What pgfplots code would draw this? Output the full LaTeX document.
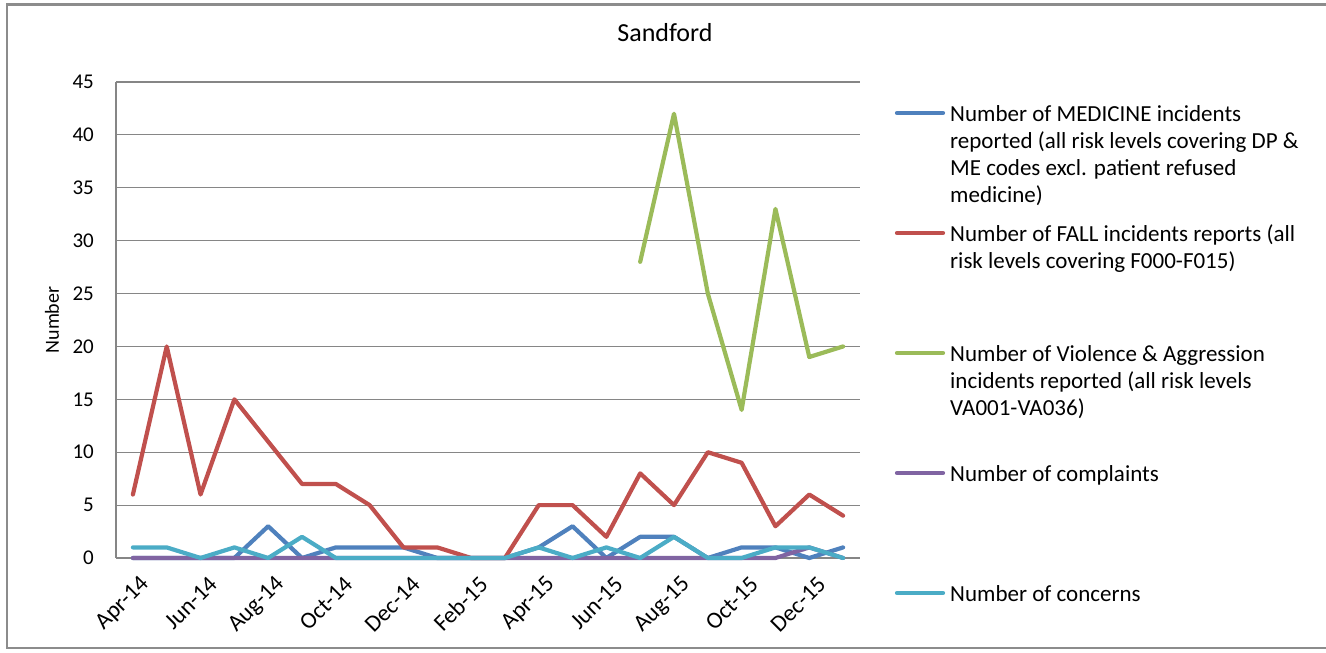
\documentclass[border=0pt]{standalone}
\usepackage{fontspec}
\setmainfont{Carlito}
\usepackage{pgfplots}
\pgfplotsset{compat=1.18}
\definecolor{cMed}{HTML}{4F81BD}
\definecolor{cFall}{HTML}{C0504D}
\definecolor{cViol}{HTML}{9BBB59}
\definecolor{cComp}{HTML}{8064A2}
\definecolor{cConc}{HTML}{4BACC6}
\definecolor{gridc}{HTML}{868686}
\definecolor{framec}{HTML}{8C8C8C}
\begin{document}
\begin{tikzpicture}[x=1pt,y=1pt]
\useasboundingbox (0,0) rectangle (1326,653);
\draw[framec, line width=2.2pt] (6,648.5) -- (1326,648.5);
\draw[framec, line width=1.4pt] (7,648.5) -- (7,5) -- (1326,5);
\begin{axis}[at={(116pt,95pt)}, anchor=south west, scale only axis,
  width=744pt, height=476pt,
  xmin=-0.5, xmax=21.5, ymin=0, ymax=45,
  ytick={0,5,...,45}, xtick={0,2,...,20},
  xticklabels={Apr-14,Jun-14,Aug-14,Oct-14,Dec-14,Feb-15,Apr-15,Jun-15,Aug-15,Oct-15,Dec-15},
  axis lines*=left, axis line style={draw=gridc, line width=1.2pt},
  ymajorgrids, grid style={draw=gridc, line width=1.2pt},
  major tick length=0pt,
  yticklabel style={font=\fontsize{21}{25}\selectfont, anchor=east, inner sep=0pt, xshift=-22pt},
  /pgf/number format/assume math mode=true,
  xticklabel style={font=\fontsize{23.5}{27}\selectfont, rotate=45, anchor=east, inner sep=0pt, xshift=-7pt, yshift=-25pt},
  clip=false,
  every axis plot/.append style={line width=4.2pt, line join=round, line cap=round},
  ylabel={Number}, ylabel style={font=\fontsize{20}{24}\selectfont, at={(axis description cs:-0.086,0.5)}, anchor=center},
  title={Sandford}, title style={font=\fontsize{26}{30}\selectfont, at={(axis description cs:0.7379,1)}, anchor=base, yshift=34pt},
]
% Medicine
\addplot[cMed] coordinates {(0,0)(1,0)(2,0)(3,0)(4,3)(5,0)(6,1)(7,1)(8,1)(9,0)(10,0)(11,0)(12,1)(13,3)(14,0)(15,2)(16,2)(17,0)(18,1)(19,1)(20,0)(21,1)};
% Falls
\addplot[cFall] coordinates {(0,6)(1,20)(2,6)(3,15)(4,11)(5,7)(6,7)(7,5)(8,1)(9,1)(10,0)(11,0)(12,5)(13,5)(14,2)(15,8)(16,5)(17,10)(18,9)(19,3)(20,6)(21,4)};
% Violence
\addplot[cViol] coordinates {(15,28)(16,42)(17,25)(18,14)(19,33)(20,19)(21,20)};
% Complaints
\addplot[cComp] coordinates {(0,0)(1,0)(2,0)(3,0)(4,0)(5,0)(6,0)(7,0)(8,0)(9,0)(10,0)(11,0)(12,0)(13,0)(14,0)(15,0)(16,0)(17,0)(18,0)(19,0)(20,1)(21,0)};
% Concerns
\addplot[cConc] coordinates {(0,1)(1,1)(2,0)(3,1)(4,0)(5,2)(6,0)(7,0)(8,0)(9,0)(10,0)(11,0)(12,1)(13,0)(14,1)(15,0)(16,2)(17,0)(18,0)(19,1)(20,1)(21,0)};
\end{axis}
% legend
\begin{scope}[every node/.style={anchor=base west, inner sep=0pt, font=\fontsize{23}{27}\selectfont}]
\draw[cMed, line width=4.2pt, line cap=round] (897,540) -- (943,540);
\node at (950,531) {Number of MEDICINE incidents};
\node at (950,504) {reported (all risk levels covering DP \&};
\node at (950,477) {ME codes excl. patient refused};
\node at (950,450) {medicine)};
\draw[cFall, line width=4.2pt, line cap=round] (897,420) -- (943,420);
\node at (950,411) {Number of FALL incidents reports (all};
\node at (950,384) {risk levels covering F000-F015)};
\draw[cViol, line width=4.2pt, line cap=round] (897,300) -- (943,300);
\node at (950,291) {Number of Violence \& Aggression};
\node at (950,264) {incidents reported (all risk levels};
\node at (950,237) {VA001-VA036)};
\draw[cComp, line width=4.2pt, line cap=round] (897,180) -- (943,180);
\node at (950,171) {Number of complaints};
\draw[cConc, line width=4.2pt, line cap=round] (897,60) -- (943,60);
\node at (950,51) {Number of concerns};
\end{scope}
\end{tikzpicture}
\end{document}
